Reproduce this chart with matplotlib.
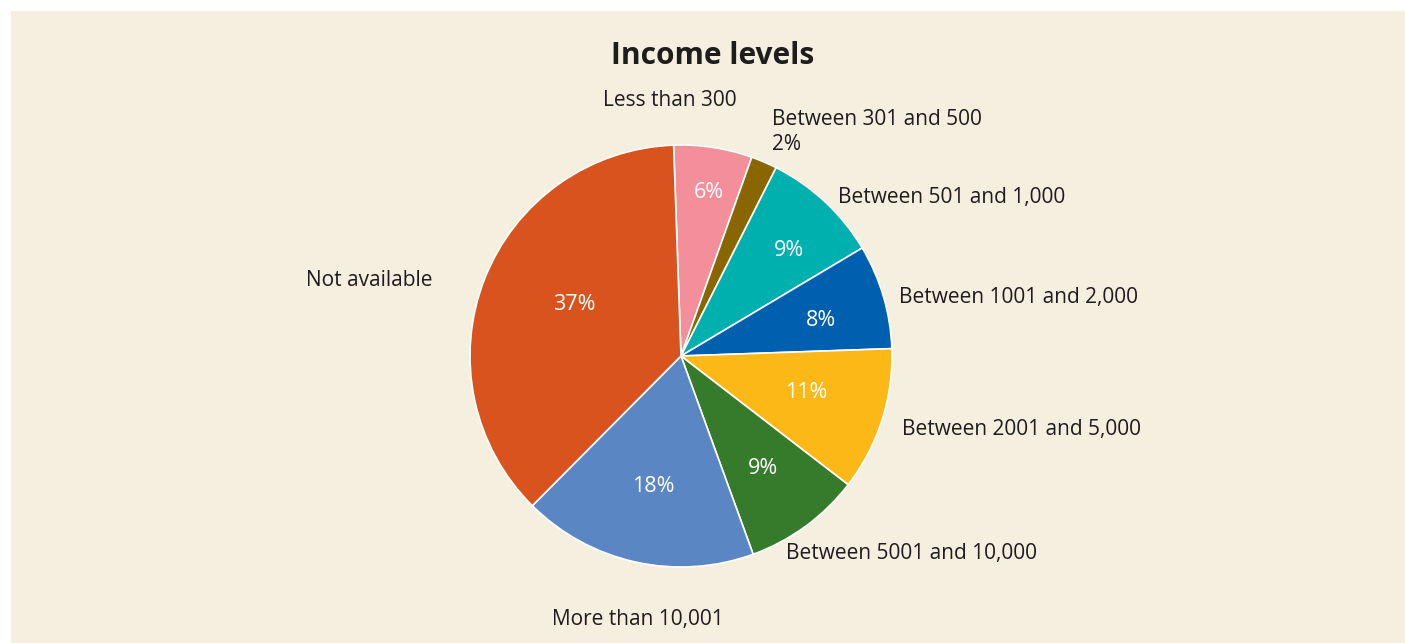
import matplotlib
matplotlib.use("Agg")
import matplotlib.pyplot as plt

BG = "#F5EFDF"
INK = "#1E1C1D"

categories = ["Less than 300", "Between 301 and 500", "Between 501 and 1,000",
              "Between 1001 and 2,000", "Between 2001 and 5,000",
              "Between 5001 and 10,000", "More than 10,001", "Not available"]
shares = [6, 2, 9, 8, 11, 9, 18, 37]
colors = ["#F38E9B", "#8A6600", "#00B0AF", "#0060AF", "#FBB816",
          "#367B2C", "#5A87C4", "#D9531E"]

# label placement in pixels from the top-left corner: (x, y, ha)
name_pos = [(670, 101, "center"), (772, 132, "left"), (838, 197, "left"),
            (899, 298, "left"), (902, 430, "left"), (786, 554, "left"),
            (638, 619, "center"), (433, 280, "right")]
pct_pos = [(709, 192), None, (789, 250), (821, 320), (806, 393),
           (763, 468), (653, 486), (574, 305)]

W, H = 1405, 643
plt.rcParams["font.family"] = ["Open Sans", "DejaVu Sans"]


def flip(y):
    return H - y


fig = plt.figure(figsize=(W / 100, H / 100), dpi=100, facecolor="white")
# beige panel with a thin white margin on top and left
fig.patches.append(plt.Rectangle((11 / W, 0), 1, 1 - 11 / H, transform=fig.transFigure,
                                 facecolor=BG, edgecolor="none", zorder=-1))
ax = fig.add_axes([0, 0, 1, 1])

ax.pie(shares, colors=colors, startangle=92, counterclock=False,
       center=(681, flip(356)), radius=211, frame=True,
       wedgeprops={"edgecolor": "white", "linewidth": 1.2})
ax.set_xlim(0, W)
ax.set_ylim(0, H)
ax.set_aspect("equal")
ax.axis("off")

for name, v, (x, y, ha) in zip(categories, shares, name_pos):
    txt = name if name != "Between 301 and 500" else f"{name}\n{v}%"
    ax.text(x, flip(y), txt, ha=ha, va="center", fontsize=15, color=INK, linespacing=1.3)

for v, p in zip(shares, pct_pos):
    if p is None:
        continue
    ax.text(p[0], flip(p[1]), f"{v}%", ha="center", va="center", fontsize=15.5, color="white")

ax.text(713, flip(56), "Income levels", ha="center", va="center", fontsize=21.5,
        fontweight="bold", color=INK)

fig.savefig("out.png", dpi=100, facecolor="white")
